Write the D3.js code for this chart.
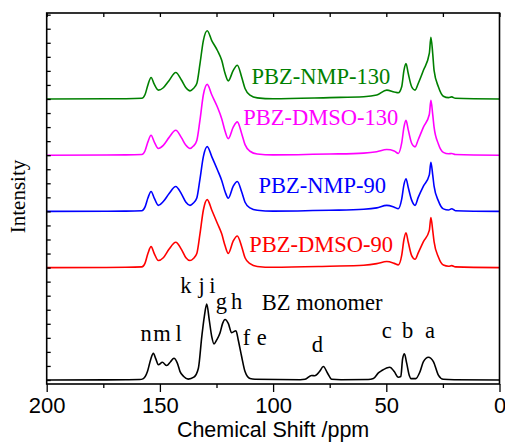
<!DOCTYPE html>
<html>
<head>
   <meta charset="UTF-8">
   <title>PBZ 13C NMR</title>
   <style>
       body { margin: 0; overflow: hidden; background: white; }
       .trace { fill: none; stroke-width: 1.6; stroke-linejoin: round; }
       .serif { font-family: "Liberation Serif", "Times New Roman", serif; }
       .sans { font-family: "Liberation Sans", Arial, sans-serif; }
   </style>
   <script src="https://cdnjs.cloudflare.com/ajax/libs/d3/7.8.5/d3.min.js"></script>
</head>
<body>
   <div id="chart"></div>
   <script>
       // chemical shift grid shared by the four polymer spectra (ppm)
       const shiftGrid = [200, 165, 158, 156.6, 155.3, 153.9, 152.5, 150.7, 148.5, 146, 143, 140.5, 138.5,
           136.7, 135.2, 133.7, 132.3, 130.8, 129.1, 127.1, 124.6, 122.7, 121.2, 119.8, 117.6, 115.8,
           113.9, 112.4, 110.2, 107, 100, 75, 60, 54.2, 49.8, 46.5, 44.7, 43.2, 42.2, 41.3, 40.3, 38.8,
           37.3, 35.9, 33.6, 31.0, 30.3, 29.5, 28.9, 27.0, 24.8, 22.5, 21.1, 19.5, 0];

       // intensities above each trace's own baseline
       const nmp130 = [0, 0.02, 0.05, 0.3, 1.0, 1.53, 1.05, 0.63, 0.8, 1.3, 1.88, 1.35, 0.8,
           0.58, 0.75, 1.1, 2.5, 4.16, 4.86, 4.16, 3.45, 2.75, 1.81, 1.29, 2.04, 2.40,
           1.57, 0.75, 0.28, 0.08, 0.02, 0.1, 0.16, 0.28, 0.63, 0.5, 0.44, 0.87, 2.04, 2.52, 1.81, 0.87,
           0.63, 1.1, 2.04, 3.24, 4.39, 3.24, 2.04, 0.87, 0.2, 0.1, 0.15, 0.05, 0];
       const dmso130 = [0, 0.02, 0.05, 0.3, 0.95, 1.42, 0.95, 0.48, 0.7, 1.25, 1.77, 1.25, 0.7,
           0.48, 0.65, 1.05, 2.5, 4.3, 5.04, 4.3, 3.43, 2.6, 1.7, 1.18, 2.0, 2.37,
           1.55, 0.75, 0.28, 0.08, 0.02, 0.08, 0.15, 0.25, 0.4, 0.3, 0.12, 0.87, 2.0, 2.48, 1.8, 0.85,
           0.59, 1.1, 2.0, 2.9, 3.9, 2.9, 2.0, 0.8, 0.2, 0.1, 0.12, 0.05, 0];
       const nmp90 = [0, 0.02, 0.05, 0.3, 0.95, 1.42, 0.95, 0.43, 0.7, 1.25, 1.77, 1.25, 0.65,
           0.43, 0.6, 0.95, 2.3, 3.9, 4.61, 3.9, 2.96, 2.2, 1.4, 0.94, 1.8, 2.13,
           1.4, 0.65, 0.25, 0.08, 0.02, 0.08, 0.15, 0.25, 0.43, 0.3, 0.19, 0.87, 1.9, 2.32, 1.7, 0.8,
           0.43, 1.0, 1.8, 2.6, 3.5, 2.6, 1.8, 0.75, 0.18, 0.1, 0.19, 0.05, 0];
       const dmso90 = [0, 0.02, 0.05, 0.3, 1.0, 1.49, 1.0, 0.5, 0.7, 1.3, 1.8, 1.3, 0.7,
           0.5, 0.65, 1.0, 2.4, 4.1, 4.84, 4.1, 3.14, 2.4, 1.55, 1.01, 1.9, 2.25,
           1.5, 0.7, 0.28, 0.08, 0.02, 0.1, 0.17, 0.28, 0.43, 0.3, 0.19, 0.87, 2.0, 2.48, 1.8, 0.85,
           0.59, 1.05, 1.85, 2.65, 3.57, 2.65, 1.85, 0.75, 0.18, 0.1, 0.14, 0.05, 0];

       // BZ monomer spectrum
       const monomerShift = [200, 165, 159, 157.3, 155.5, 154, 152.9, 151.8, 150.7, 148.9, 147.0, 145.3,
           143.8, 142.3, 141.1, 139.5, 137.5, 135, 133.0, 131.5, 130.4, 129.3, 128.2, 127.1, 126.1,
           124.9, 123.5, 122.3, 121.2, 119.8, 118.3, 116.4, 115.4, 113.9, 112.4, 110.2, 108, 88, 85.9,
           83.0, 81.6, 79.5, 77.8, 76, 74.1, 70, 58, 55.7, 53.5, 52.0, 48.4, 46.5, 44.7, 43.6, 42.8,
           42.0, 41.0, 39.8, 39.1, 37, 35.1, 33.6, 31.4, 29.2, 27.0, 24.8, 20, 0];
       const monomer = [0, 0.02, 0.03, 0.1, 0.6, 1.5, 1.9, 1.5, 1.08, 1.26, 1.03, 1.3,
           1.55, 1.2, 0.6, 0.25, 0.06, 0.2, 0.84, 3.09, 4.5, 5.40, 4.27, 3.09, 2.57,
           2.85, 3.32, 4.03, 4.31, 4.03, 3.37, 3.51, 2.85, 1.67, 0.6, 0.1, 0.05, 0.02, 0.05,
           0.32, 0.3, 0.6, 0.96, 0.5, 0.05, 0.02, 0.03, 0.1, 0.5, 0.67, 0.91, 0.6, 0.2, 0.25, 1.5,
           1.86, 1.2, 0.3, 0.1, 0.1, 0.6, 1.31, 1.62, 1.31, 0.35, 0.05, 0.02, 0];

       const seriesNames = ["BZ monomer", "PBZ-DMSO-90", "PBZ-NMP-90", "PBZ-DMSO-130", "PBZ-NMP-130"];
       const seriesColors = ["#000000", "#ff0000", "#0000ff", "#ff00ff", "#008000"];
       const stackOffset = [0, 8, 12, 16, 20];
       // where each series name sits (ppm, intensity)
       const nameAt = [[105.0, 4.98], [110.5, 9.13], [106.5, 13.33], [113.2, 18.15], [109.5, 21.1]];

       // carbon assignments on the monomer spectrum
       const peakLetters = ["k", "j", "i", "g", "h", "n", "m", "l", "f", "e", "d", "c", "b", "a"];
       const letterShift = [138.5, 131.6, 126.8, 122.9, 116.1, 156.1, 149.1, 141.7, 111.7, 105.0, 80.4, 49.8, 40.6, 30.7];
       const letterHeight = [6.17, 6.17, 6.17, 5.05, 5.05, 2.78, 2.78, 2.78, 2.49, 2.49, 2.01, 2.97, 2.97, 2.97];

       const xLabels = [200, 150, 100, 50, 0];
       const xMinor = [175, 125, 75, 25];

       const width = 505, height = 442;
       const plot = {left: 46.7, right: 499.5, top: 13, bottom: 384};

       const svg = d3.select("#chart").append("svg")
           .attr("width", width)
           .attr("height", height);

       const x = d3.scaleLinear().domain([200, 0]).range([plot.left, plot.right]);
       const y = d3.scaleLinear().domain([-0.285, 26.12]).range([plot.bottom, plot.top]);

       const spectra = [
           monomerShift.map((s, i) => [s, monomer[i]]),
           shiftGrid.map((s, i) => [s, dmso90[i]]),
           shiftGrid.map((s, i) => [s, nmp90[i]]),
           shiftGrid.map((s, i) => [s, dmso130[i]]),
           shiftGrid.map((s, i) => [s, nmp130[i]])
       ];

       spectra.forEach((pts, k) => {
           const line = d3.line()
               .x(d => x(d[0]))
               .y(d => y(d[1] + stackOffset[k]))
               .curve(d3.curveMonotoneX);
           svg.append("path")
               .attr("class", "trace")
               .attr("stroke", seriesColors[k])
               .attr("d", line(pts));
       });

       // series names
       svg.selectAll(".name")
           .data(seriesNames)
           .enter().append("text")
           .attr("class", "serif")
           .attr("x", (d, i) => x(nameAt[i][0]))
           .attr("y", (d, i) => y(nameAt[i][1]))
           .style("font-size", "22.5px")
           .style("fill", (d, i) => seriesColors[i])
           .text(d => d);

       svg.selectAll(".letter")
           .data(peakLetters)
           .enter().append("text")
           .attr("class", "serif")
           .attr("x", (d, i) => x(letterShift[i]))
           .attr("y", (d, i) => y(letterHeight[i]))
           .attr("text-anchor", "middle")
           .style("font-size", "22.5px")
           .text(d => d);

       // axes
       const gx = svg.append("g")
           .attr("transform", `translate(0,${plot.bottom})`)
           .call(d3.axisBottom(x).tickValues(xLabels).tickSize(8).tickPadding(5).tickSizeOuter(0));
       gx.selectAll("text").attr("class", "sans").style("font-size", "22px").attr("fill", "#000");

       svg.append("g")
           .attr("transform", `translate(0,${plot.bottom})`)
           .call(d3.axisBottom(x).tickValues(xMinor).tickSize(4).tickFormat("").tickSizeOuter(0));

       svg.append("g")
           .attr("transform", `translate(0,${plot.top})`)
           .call(d3.axisTop(x).tickValues(xLabels.concat(xMinor)).tickSize(-4).tickFormat("").tickSizeOuter(0));

       svg.append("g")
           .attr("transform", `translate(${plot.left},0)`)
           .call(d3.axisLeft(y).tickValues(d3.range(0, 27)).tickSize(-4).tickFormat("").tickSizeOuter(0));

       svg.selectAll(".domain").remove();
       svg.selectAll(".tick line").attr("stroke", "#000").attr("stroke-width", 1.3);

       svg.append("rect")
           .attr("x", plot.left).attr("y", plot.top)
           .attr("width", plot.right - plot.left).attr("height", plot.bottom - plot.top)
           .attr("fill", "none")
           .attr("stroke", "#000")
           .attr("stroke-width", 1.6);

       svg.append("text")
           .attr("class", "sans")
           .attr("x", (plot.left + plot.right) / 2)
           .attr("y", 437)
           .attr("text-anchor", "middle")
           .style("font-size", "21.5px")
           .text("Chemical Shift /ppm");

       svg.append("text")
           .attr("class", "serif")
           .attr("transform", `translate(25,${(plot.top + plot.bottom) / 2 - 2}) rotate(-90)`)
           .attr("text-anchor", "middle")
           .style("font-size", "21px")
           .text("Intensity");
   </script>
</body>
</html>
